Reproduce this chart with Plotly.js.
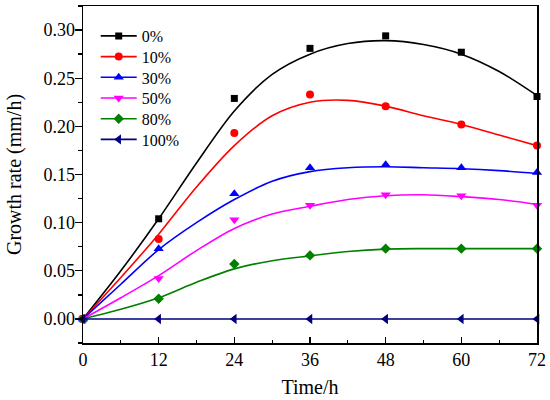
<!DOCTYPE html>
<html>
<head>
<meta charset="utf-8">
<script src="https://cdn.plot.ly/plotly-3.0.1.min.js"></script>
<style>html,body{margin:0;padding:0;background:#fff}#chart{width:550px;height:400px}</style>
</head>
<body>
<div id="chart"></div>
<script>
// Measured time points (h)
var timePoints = [0, 12, 24, 36, 48, 60, 72];
// Measured growth rates (mm/h)
var rate0   = [0, 0.104, 0.229, 0.281, 0.294, 0.277, 0.231];
var rate10  = [0, 0.083, 0.193, 0.233, 0.221, 0.202, 0.180];
var rate30  = [0, 0.073, 0.130, 0.157, 0.160, 0.157, 0.152];
var rate50  = [0, 0.042, 0.103, 0.118, 0.129, 0.128, 0.118];
var rate80  = [0, 0.021, 0.057, 0.066, 0.073, 0.073, 0.073];
var rate100 = [0, 0, 0, 0, 0, 0, 0];

// Fitted curves
var fitTime = [0, 6, 12, 18, 24, 30, 36, 42, 48, 54, 60, 66, 72];
var fit0   = [0, 0.050, 0.104, 0.162, 0.216, 0.254, 0.275, 0.286, 0.289, 0.285, 0.275, 0.257, 0.232];
var fit10  = [0, 0.043, 0.088, 0.137, 0.180, 0.211, 0.225, 0.227, 0.221, 0.211, 0.202, 0.191, 0.180];
var fit30  = [0, 0.036, 0.072, 0.100, 0.124, 0.143, 0.153, 0.157, 0.158, 0.157, 0.156, 0.154, 0.151];
var fit50  = [0, 0.022, 0.045, 0.071, 0.094, 0.109, 0.117, 0.124, 0.128, 0.129, 0.127, 0.124, 0.119];
var fit80  = [0, 0.010, 0.022, 0.038, 0.052, 0.0605, 0.0655, 0.070, 0.0725, 0.073, 0.073, 0.073, 0.073];
var fit100 = [0, 0, 0, 0, 0, 0, 0, 0, 0, 0, 0, 0, 0];

var seriesNames = ['0%', '10%', '30%', '50%', '80%', '100%'];
var seriesColors = ['#000000', '#ff0000', '#0000ff', '#ff00ff', '#008000', '#000080'];
var seriesSymbols = ['square', 'circle', 'triangle-up', 'triangle-down', 'diamond', 'triangle-left'];
var seriesSizes = [7, 8, 9, 9, 8, 9];
var rates = [rate0, rate10, rate30, rate50, rate80, rate100];
var fits = [fit0, fit10, fit30, fit50, fit80, fit100];

var fontFam = 'Liberation Serif';
var traces = [];
for (var i = 0; i < seriesNames.length; i++) {
  traces.push({
    x: fitTime, y: fits[i], mode: 'lines', type: 'scatter',
    line: {color: seriesColors[i], width: 1.6, shape: 'spline', smoothing: 0.9},
    showlegend: false, hoverinfo: 'skip'
  });
  traces.push({
    x: timePoints, y: rates[i], mode: 'markers', type: 'scatter',
    marker: {color: seriesColors[i], symbol: seriesSymbols[i], size: seriesSizes[i]},
    showlegend: false, cliponaxis: false
  });
}

var layout = {
  width: 550, height: 400,
  margin: {l: 83, r: 13, t: 6, b: 57},
  paper_bgcolor: '#fff', plot_bgcolor: '#fff',
  font: {family: fontFam, size: 18, color: '#000'},
  xaxis: {
    range: [0, 72], dtick: 12, tick0: 0,
    ticks: 'inside', ticklen: 6, tickwidth: 1.3, tickcolor: '#000',
    minor: {dtick: 6, ticks: 'inside', ticklen: 3, tickwidth: 1.3, tickcolor: '#000'},
    showline: true, linecolor: '#000', linewidth: 1.5, mirror: true,
    showgrid: false, zeroline: false,
    tickfont: {family: fontFam, size: 18, color: '#000'},
    title: {text: 'Time/h', font: {family: fontFam, size: 20, color: '#000'}, standoff: 11}
  },
  yaxis: {
    range: [-0.025, 0.325], dtick: 0.05, tick0: 0, tickformat: '.2f',
    ticks: 'outside', ticklen: 7, tickwidth: 1.3, tickcolor: '#000',
    ticklabelstandoff: -4,
    minor: {dtick: 0.025, ticks: 'outside', ticklen: 4, tickwidth: 1.3, tickcolor: '#000'},
    showline: true, linecolor: '#000', linewidth: 1.5, mirror: true,
    showgrid: false, zeroline: false,
    tickfont: {family: fontFam, size: 18, color: '#000'},
    title: {text: 'Growth rate (mm/h)', font: {family: fontFam, size: 20, color: '#000'}, standoff: 16}
  }
};

// one legend per entry, so the row spacing can match the reference
var plotTopPx = 6, plotHpx = 337, firstRowPx = 36, rowGapPx = 20.7;
for (var j = 0; j < seriesNames.length; j++) {
  var key = j === 0 ? 'legend' : 'legend' + (j + 1);
  traces.push({
    x: [null], y: [null], mode: 'lines+markers', type: 'scatter', name: seriesNames[j],
    legend: key,
    line: {color: seriesColors[j], width: 1.6},
    marker: {color: seriesColors[j], symbol: seriesSymbols[j], size: seriesSizes[j]}
  });
  layout[key] = {
    x: 0.028, y: 1 - (firstRowPx + j * rowGapPx - plotTopPx) / plotHpx,
    xanchor: 'left', yanchor: 'middle',
    bgcolor: 'rgba(0,0,0,0)', borderwidth: 0,
    font: {family: fontFam, size: 16, color: '#000'},
    itemwidth: 36
  };
}
layout.showlegend = true;

Plotly.newPlot('chart', traces, layout, {displayModeBar: false, staticPlot: true});
</script>
</body>
</html>
